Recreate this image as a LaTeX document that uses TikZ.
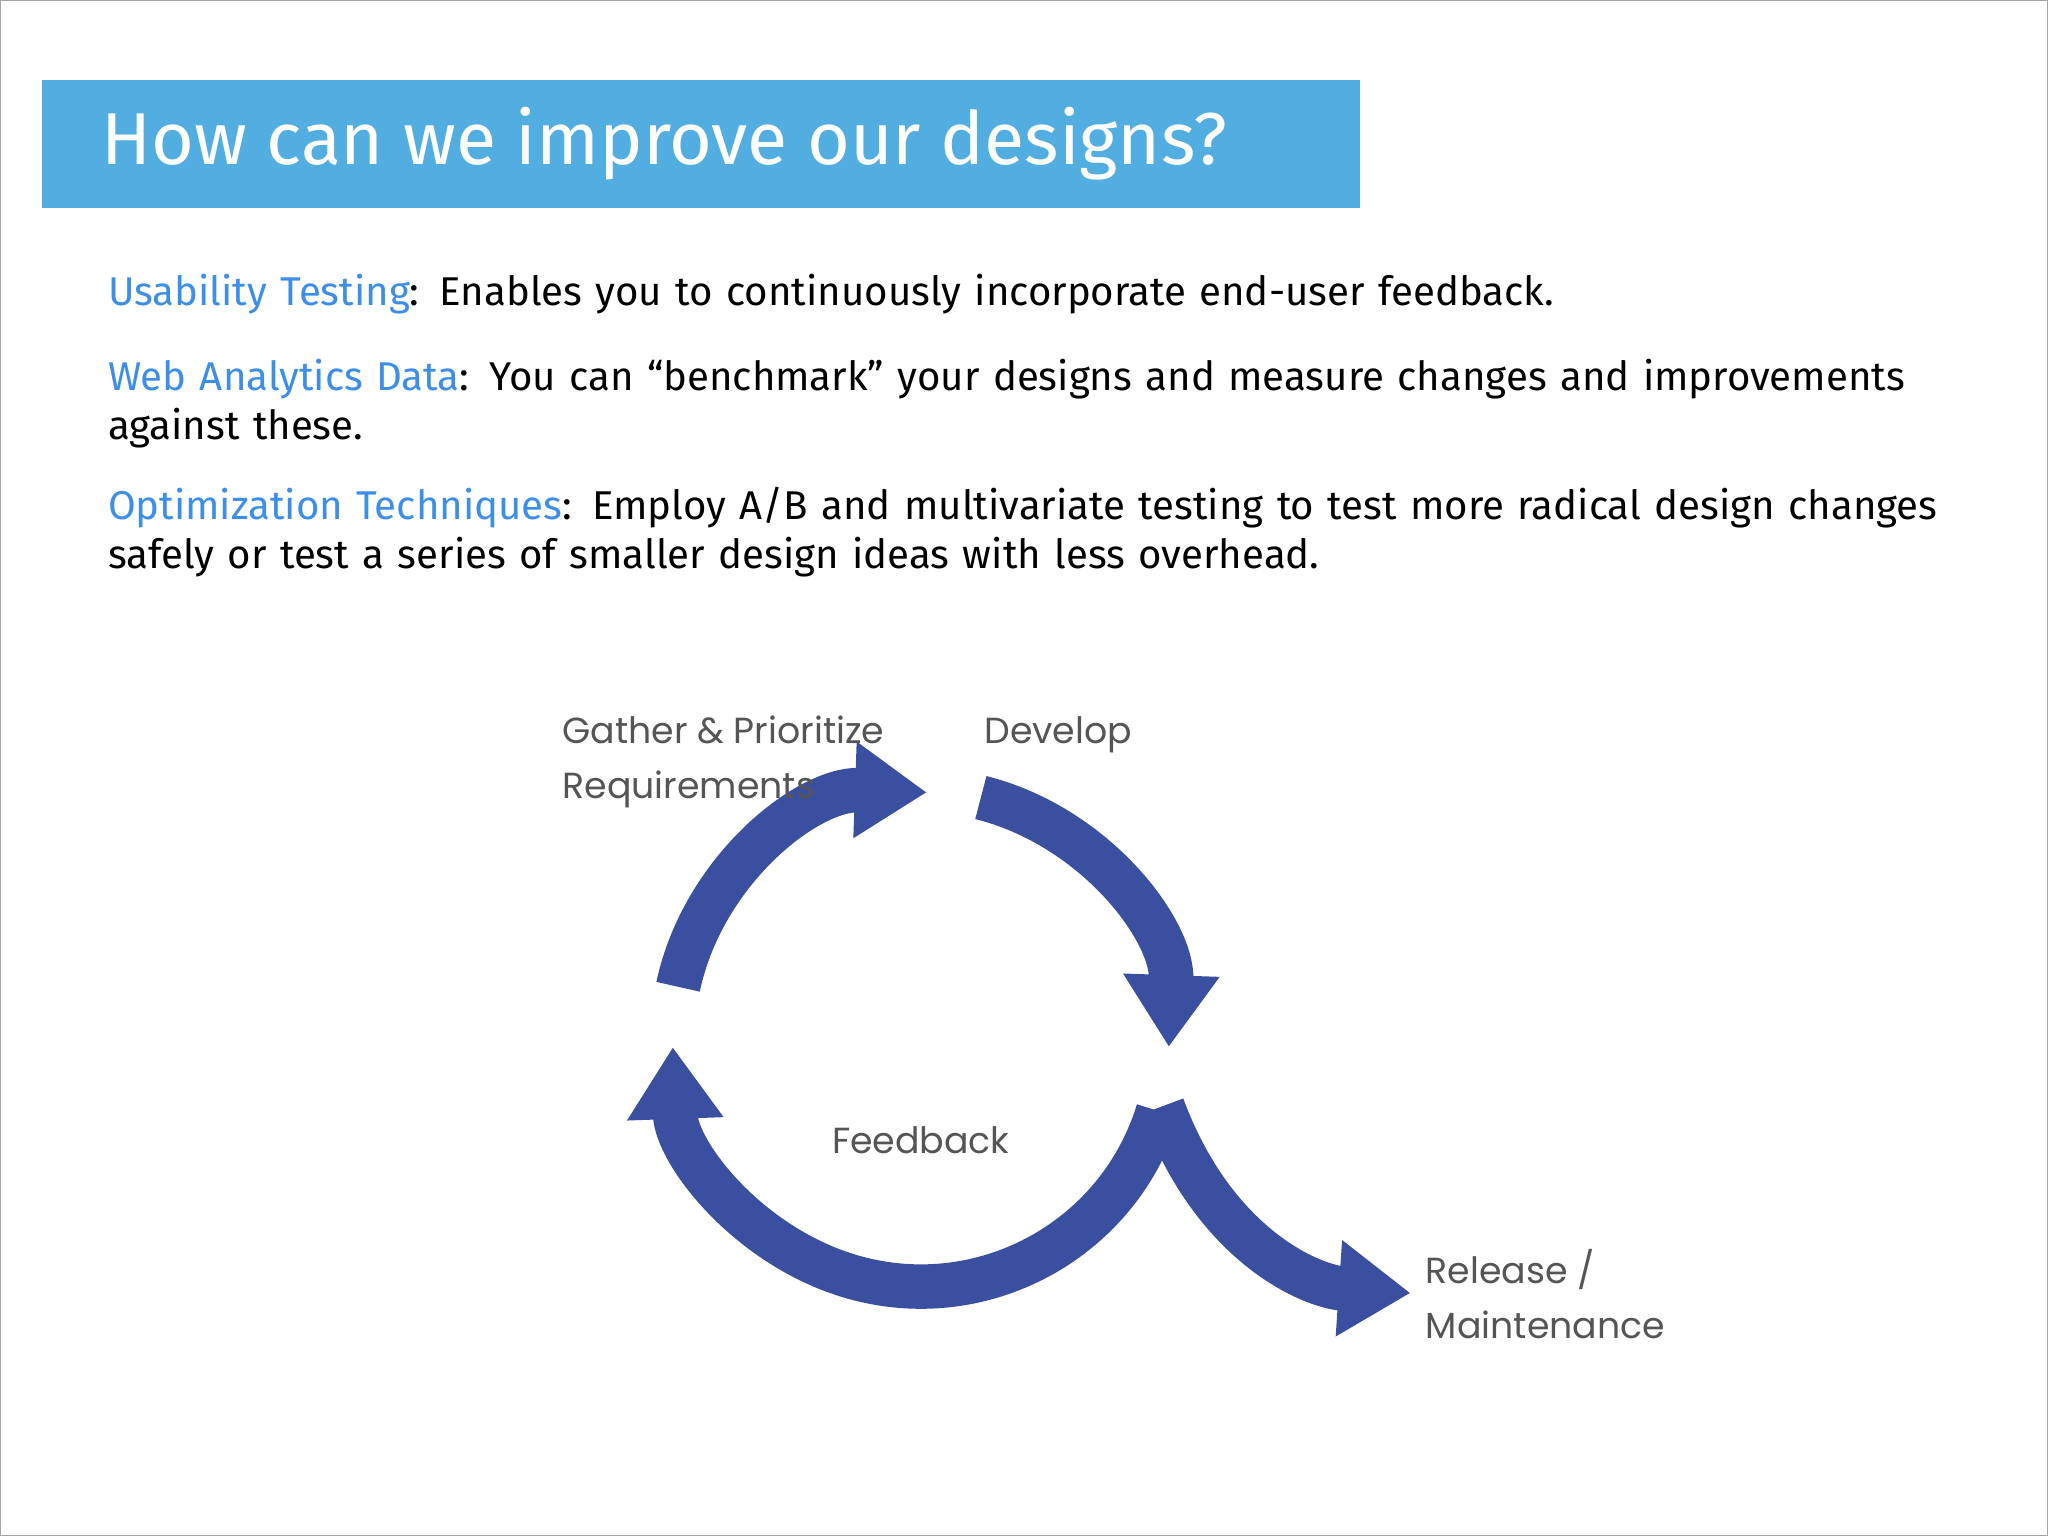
\documentclass[tikz,border=0pt]{standalone}
\usepackage{fontspec}
\setmainfont{Fira Sans}
\newfontfamily\geo{Poppins}
\usetikzlibrary{arrows.meta}
\definecolor{titlebg}{HTML}{52AEE0}
\definecolor{hl}{HTML}{3C8EE8}
\definecolor{cyc}{HTML}{3A4FA0}
\definecolor{lab}{HTML}{555555}
\tikzset{
  body/.style={anchor=base west,inner sep=0pt,font=\fontsize{8.75pt}{10.6pt}\selectfont,text width=14.3cm,align=left},
  arr/.style={cyc,line width=0.34cm,-{Triangle[width=0.7cm,length=0.55cm]}},
  lbl/.style={anchor=base west,inner sep=0pt,text=lab,font=\geo\fontsize{7.9pt}{10pt}\selectfont}
}
\begin{document}
\begin{tikzpicture}[x=0.01cm,y=-0.01cm]
\useasboundingbox (0,0) rectangle (1568,1176);
\draw[gray!70,line width=0.3pt] (0.5,0.5) rectangle (1567.5,1175.5);
\fill[titlebg] (32,61) rectangle (1041,159);
\node[anchor=base west,inner sep=0pt,text=white,font=\fontsize{16pt}{20pt}\selectfont] (title) at (77,126) {How can we improve our designs?};
\node[body] (t1) at (82,234) {\textcolor{hl}{Usability Testing}: Enables you to continuously incorporate end-user feedback.};
\node[body] (t2) at (82,299) {\textcolor{hl}{Web Analytics Data}: You can “benchmark” your designs and measure changes and improvements against these.};
\node[body] (t3) at (82,398) {\textcolor{hl}{Optimization Techniques}: Employ A/B and multivariate testing to test more radical design changes safely or test a series of smaller design ideas with less overhead.};
\begin{scope}[shift={(705,795)},x=0.01cm,y=0.01cm]
\coordinate (g0) at (168:190);
\coordinate (d0) at (76:190);
\coordinate (f0) at (-17:190);
\coordinate (r0) at (185,-52);
\coordinate (r1) at (375,-195);
\draw[arr] (g0) arc[start angle=168,end angle=88,radius=188];
\draw[arr] (d0) arc[start angle=76,end angle=-2,radius=190];
\draw[arr] (f0) arc[start angle=-17,end angle=-178,radius=190];
\draw[arr] (r0) .. controls (225,-160) and (300,-190) .. (r1);
\end{scope}
\node[lbl] (l1) at (430,569) {Gather \& Prioritize};
\node[lbl] (l2) at (430,611) {Requirements};
\node[lbl] (l3) at (753,569) {Develop};
\node[lbl,anchor=base] (l4) at (705,883) {Feedback};
\node[lbl] (l5) at (1091,983) {Release /};
\node[lbl] (l6) at (1091,1025) {Maintenance};
\end{tikzpicture}
\end{document}
